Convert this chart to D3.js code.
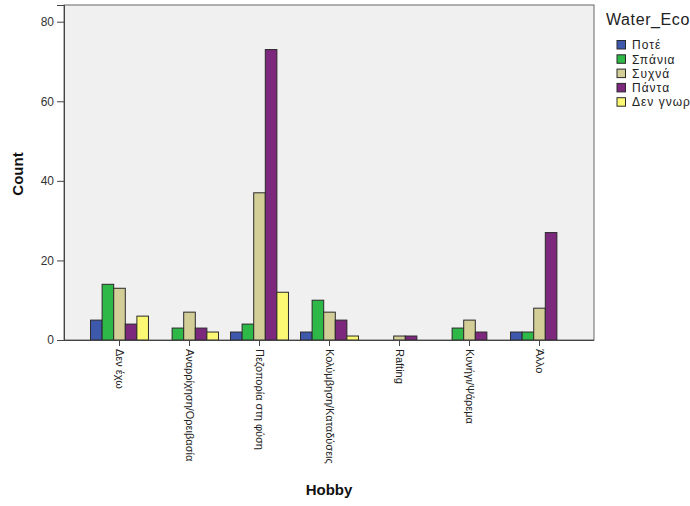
<!DOCTYPE html>
<html>
<head>
<meta charset="utf-8">
<script src="https://cdn.jsdelivr.net/npm/d3@7"></script>
<style>
html,body{margin:0;padding:0;background:#fff;}
svg{display:block;font-family:"Liberation Sans",Arial,sans-serif;}
</style>
</head>
<body>
<svg id="chart" width="690" height="506"></svg>
<script>
const categories = ["Δεν έχω","Αναρρίχηση/Ορειβασία","Πεζοπορία στη φύση","Κολύμβηση/Καταδύσεις","Rafting","Κυνήγι/Ψάρεμα","Άλλο"];
const seriesNames = ["Ποτέ","Σπάνια","Συχνά","Πάντα","Δεν γνωρίζω"];
const seriesColors = ["#3E58AC","#2EB848","#D3CE97","#7C287D","#FBF873"];
const valPote    = [5, 0, 2, 2, 0, 0, 2];
const valSpania  = [14, 3, 4, 10, 0, 3, 2];
const valSyxna   = [13, 7, 37, 7, 1, 5, 8];
const valPanta   = [4, 3, 73, 5, 1, 2, 27];
const valDenGn   = [6, 2, 12, 1, 0, 0, 0];
const yTicks = [0, 20, 40, 60, 80];
const legendTitle = "Water_Ecology";
const xTitle = "Hobby";
const yTitle = "Count";

const seriesValues = [valPote, valSpania, valSyxna, valPanta, valDenGn];
const svg = d3.select("#chart");

const plot = {left: 64, right: 594, top: 5, bottom: 340};

const y = d3.scaleLinear().domain([0, 84.2]).range([plot.bottom, plot.top]);
const x0 = d3.scaleBand().domain(categories).range([84.5, 574.5]).padding(0);
const x1 = d3.scaleBand().domain(seriesNames).range([0, x0.bandwidth()]).paddingInner(0).paddingOuter(0.52);
const color = d3.scaleOrdinal().domain(seriesNames).range(seriesColors);

// plot background
svg.append("rect")
  .attr("x", plot.left).attr("y", plot.top)
  .attr("width", plot.right - plot.left).attr("height", plot.bottom - plot.top)
  .attr("fill", "#F0F0F0").attr("stroke", "#666").attr("stroke-width", 1);

// bars
const data = [];
categories.forEach((c, i) => {
  seriesNames.forEach((s, j) => {
    data.push({cat: c, ser: s, val: seriesValues[j][i]});
  });
});
svg.append("g").selectAll("rect")
  .data(data.filter(d => d.val > 0))
  .join("rect")
  .attr("x", d => x0(d.cat) + x1(d.ser))
  .attr("y", d => y(d.val))
  .attr("width", x1.bandwidth())
  .attr("height", d => y(0) - y(d.val))
  .attr("fill", d => color(d.ser))
  .attr("stroke", "#2a2a2a")
  .attr("stroke-width", 1);

// y axis
const yAxis = svg.append("g")
  .attr("transform", `translate(${plot.left},0)`)
  .call(d3.axisLeft(y).tickValues(yTicks).tickSize(7).tickPadding(3).tickFormat(d3.format("d")));
yAxis.select(".domain").attr("stroke", "#444");
yAxis.selectAll(".tick line").attr("stroke", "#444");
yAxis.selectAll(".tick text").attr("fill", "#333").style("font-size", "12px").style("font-family", "Liberation Sans, Arial, sans-serif");

// x axis
const xAxis = svg.append("g")
  .attr("transform", `translate(0,${plot.bottom})`)
  .call(d3.axisBottom(x0).tickSize(6).tickSizeOuter(0));
xAxis.select(".domain").attr("stroke", "#444").attr("d", `M${plot.left},0.5H${plot.right}`);
xAxis.selectAll(".tick line").attr("stroke", "#444");
xAxis.selectAll(".tick text")
  .attr("transform", "translate(0,9) rotate(90)")
  .attr("x", 0).attr("y", 0).attr("dy", "0.35em")
  .attr("text-anchor", "start")
  .attr("fill", "#222")
  .style("font-size", "11px")
  .style("font-family", "Liberation Sans, Arial, sans-serif");

// axis titles
svg.append("text")
  .attr("transform", "translate(23,174) rotate(-90)")
  .attr("text-anchor", "middle")
  .style("font-size", "15px").style("font-weight", "bold").attr("fill", "#111")
  .text(yTitle);
svg.append("text")
  .attr("x", 329).attr("y", 495)
  .attr("text-anchor", "middle")
  .style("font-size", "15px").style("font-weight", "bold").attr("fill", "#111")
  .text(xTitle);

// legend
svg.append("text")
  .attr("x", 606).attr("y", 25)
  .style("font-size", "16px").style("letter-spacing", "0.6px").attr("fill", "#222")
  .text(legendTitle);
const leg = svg.append("g").selectAll("g")
  .data(seriesNames)
  .join("g")
  .attr("transform", (d, i) => `translate(617,${40.5 + i * 14.3})`);
leg.append("rect")
  .attr("width", 8.5).attr("height", 8.5)
  .attr("fill", d => color(d)).attr("stroke", "#2a2a2a").attr("stroke-width", 1);
leg.append("text")
  .attr("x", 15).attr("y", 4.5).attr("dy", "0.35em")
  .style("font-size", "12px").style("letter-spacing", "1px").attr("fill", "#222")
  .text(d => d);
</script>
</body>
</html>
